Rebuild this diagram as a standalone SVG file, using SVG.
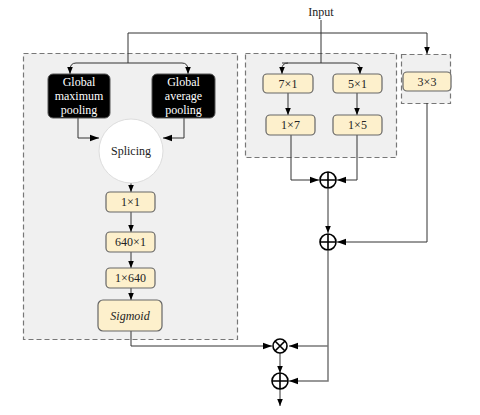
<svg xmlns="http://www.w3.org/2000/svg" width="480" height="415" viewBox="0 0 480 415">
<defs>
<marker id="ah" viewBox="0 0 10 10" refX="10" refY="5" markerWidth="7" markerHeight="7" markerUnits="userSpaceOnUse" orient="auto"><path d="M0,1 L10,5 L0,9 Z" fill="#000"/></marker>
<marker id="ahl" viewBox="0 0 10 10" refX="10" refY="5" markerWidth="9" markerHeight="9" markerUnits="userSpaceOnUse" orient="auto"><path d="M0,1.5 L10,5 L0,8.5 Z" fill="#000"/></marker>
</defs>
<style>
text{font-family:"Liberation Serif","Times New Roman",serif;font-size:12px;text-anchor:middle;fill:#222}
.grp{fill:#f0f0f0;stroke:#777;stroke-width:1.2;stroke-dasharray:5,3}
.cell{fill:#fdf0cc;stroke:#666;stroke-width:1.2}
.blk{fill:#000;stroke:#555;stroke-width:1}
.wt{fill:#fff}
.ln{fill:none;stroke:#333;stroke-width:1}
.lng{fill:none;stroke:#777;stroke-width:1.5}
.op{fill:#fff;stroke:#000;stroke-width:1.6}
</style>
<rect width="480" height="415" fill="#fff"/>
<g id="groups">
<rect class="grp" x="23.5" y="53.5" width="214" height="286"/>
<rect class="grp" x="245.5" y="53.5" width="151" height="104"/>
<rect class="grp" x="401.5" y="54.5" width="49" height="49"/>
</g>
<g id="input"><text x="321" y="16">Input</text></g>
<g id="connectors">
<path class="ln" d="M321,20 V63"/>
<path class="ln" d="M128,63 V33 H427 V54" marker-end="url(#ah)"/>
<path class="ln" d="M128,63 H76 Q70,63 70,70 V74" marker-end="url(#ah)"/>
<path class="ln" d="M128,63 H182 Q188,63 188,70 V74" marker-end="url(#ah)"/>
<path class="ln" d="M78,118 V138 H99" marker-end="url(#ahl)"/>
<path class="ln" d="M184,118 V138 H163" marker-end="url(#ahl)"/>
<path class="ln" d="M131,183 V192" marker-end="url(#ah)"/>
<path class="ln" d="M131,212 V232" marker-end="url(#ah)"/>
<path class="ln" d="M131,252 V268" marker-end="url(#ah)"/>
<path class="ln" d="M131,288 V300" marker-end="url(#ah)"/>
<path class="ln" d="M131,331 V346 H272" marker-end="url(#ahl)"/>
<path class="ln" d="M282,63 H353 Q360,63 360,69 V74" marker-end="url(#ah)"/>
<path class="ln" d="M288,63 Q282,63 282,69 V74" marker-end="url(#ah)"/>
<path class="ln" d="M288,93 V115" marker-end="url(#ah)"/>
<path class="ln" d="M357,93 V115" marker-end="url(#ah)"/>
<path class="ln" d="M291,135 V180 H319" marker-end="url(#ahl)"/>
<path class="ln" d="M357,135 V180 H337" marker-end="url(#ahl)"/>
<path class="ln" d="M328,189 V233" marker-end="url(#ah)"/>
<path class="ln" d="M427,103 V242 H337" marker-end="url(#ahl)"/>
<path class="lng" d="M328,251 V381 H289" marker-end="url(#ahl)"/>
<path class="lng" d="M328,346 H289" marker-end="url(#ahl)"/>
<path class="ln" d="M280,353 V373" marker-end="url(#ah)"/>
<path class="ln" d="M280,389 V406" marker-end="url(#ah)"/>
</g>
<g id="gmp">
<rect class="blk" x="48" y="74" width="62" height="44" rx="5"/>
<text class="wt" x="79" y="86">Global</text>
<text class="wt" x="79" y="100">maximum</text>
<text class="wt" x="79" y="114">pooling</text>
</g>
<g id="gap">
<rect class="blk" x="152" y="74" width="63" height="44" rx="5"/>
<text class="wt" x="183.5" y="86">Global</text>
<text class="wt" x="183.5" y="100">average</text>
<text class="wt" x="183.5" y="114">pooling</text>
</g>
<g id="splicing">
<circle cx="131" cy="151" r="32" fill="#fff" stroke="#ddd" stroke-width="1"/>
<text x="131" y="155">Splicing</text>
</g>
<g id="c11"><rect class="cell" x="106" y="192" width="49" height="20" rx="4"/><text x="130.5" y="206">1×1</text></g>
<g id="c6401"><rect class="cell" x="106" y="232" width="49" height="20" rx="4"/><text x="130.5" y="246">640×1</text></g>
<g id="c1640"><rect class="cell" x="106" y="268" width="49" height="20" rx="4"/><text x="130.5" y="282">1×640</text></g>
<g id="sigmoid"><rect class="cell" x="98" y="300" width="64" height="31" rx="5"/><text x="130" y="320" style="font-style:italic">Sigmoid</text></g>
<g id="c71"><rect class="cell" x="263" y="74" width="50" height="19" rx="4"/><text x="288" y="87.5">7×1</text></g>
<g id="c51"><rect class="cell" x="333" y="74" width="49" height="19" rx="4"/><text x="357.5" y="87.5">5×1</text></g>
<g id="c17"><rect class="cell" x="266" y="115" width="49" height="20" rx="4"/><text x="290.5" y="129">1×7</text></g>
<g id="c15"><rect class="cell" x="333" y="115" width="49" height="20" rx="4"/><text x="357.5" y="129">1×5</text></g>
<g id="c33"><rect class="cell" x="403" y="72" width="48" height="19" rx="4"/><text x="427" y="85.5">3×3</text></g>
<g id="add1"><circle class="op" cx="328" cy="180" r="8"/><path class="op" d="M320,180 H336 M328,172 V188"/></g>
<g id="add2"><circle class="op" cx="328" cy="242" r="8"/><path class="op" d="M320,242 H336 M328,234 V250"/></g>
<g id="mul"><circle class="op" cx="280" cy="346" r="7"/><path class="op" d="M275,341 L285,351 M285,341 L275,351"/></g>
<g id="add3"><circle class="op" cx="280" cy="381" r="8"/><path class="op" d="M272,381 H288 M280,373 V389"/></g>
</svg>
